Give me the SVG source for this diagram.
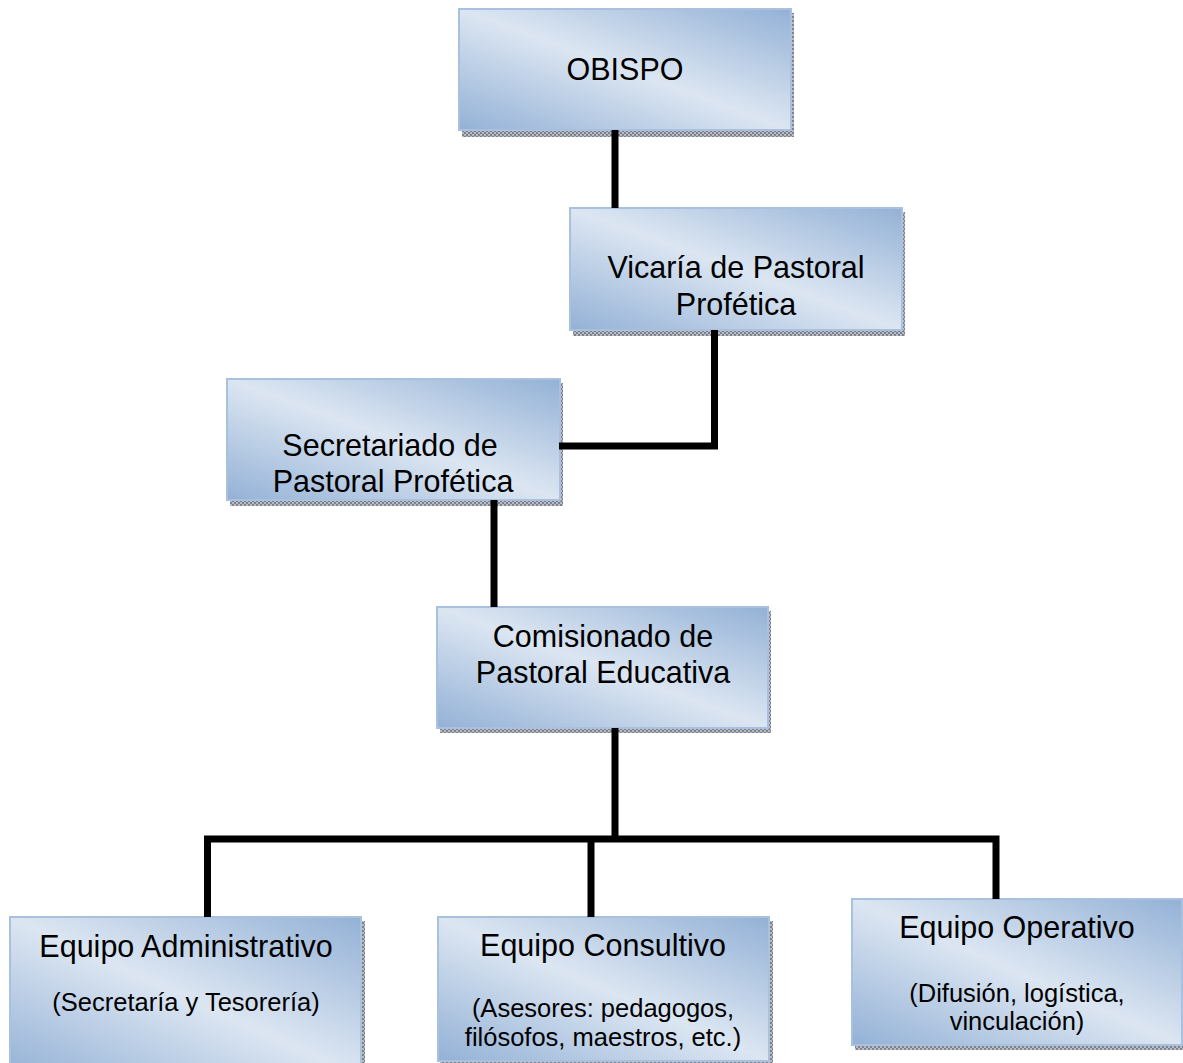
<svg xmlns="http://www.w3.org/2000/svg" width="1183" height="1063" viewBox="0 0 1183 1063">
<defs>
<linearGradient id="g" x1="0" y1="1" x2="1" y2="0">
<stop offset="0" stop-color="#93b1d6"/>
<stop offset="0.5" stop-color="#dce6f2"/>
<stop offset="1" stop-color="#93b1d6"/>
</linearGradient>
<pattern id="sh" width="4" height="4" patternUnits="userSpaceOnUse">
<rect width="4" height="4" fill="#b8bcc4"/>
<rect width="2" height="2" fill="#7c818c"/>
<rect x="2" y="2" width="2" height="2" fill="#7c818c"/>
</pattern>
<style>
.box{fill:url(#g);stroke:#a9c1df;stroke-width:2}
.shadow{fill:url(#sh)}
.t{font-family:"Liberation Sans",Arial,sans-serif;font-size:30.5px;fill:#000;text-anchor:middle}
.s{font-family:"Liberation Sans",Arial,sans-serif;font-size:25.5px;fill:#000;text-anchor:middle}
.c{stroke:#000;stroke-width:7;fill:none;stroke-linecap:butt;stroke-linejoin:miter}
</style>
</defs>
<rect width="1183" height="1063" fill="#fff"/>
<g id="obispo">
<rect class="shadow" x="462" y="13" width="332" height="124"/>
<rect class="box" x="459" y="9" width="332" height="121"/>
<text class="t" x="625" y="80">OBISPO</text>
</g>
<g id="vicaria">
<rect class="shadow" x="573" y="212" width="332" height="124"/>
<rect class="box" x="570" y="208" width="332" height="122"/>
<text class="t" x="736" y="278">Vicaría de Pastoral</text>
<text class="t" x="736" y="315">Profética</text>
</g>
<g id="secretariado">
<rect class="shadow" x="230" y="383" width="333" height="123"/>
<rect class="box" x="227" y="379" width="333" height="121"/>
<text class="t" x="390" y="456">Secretariado de</text>
<text class="t" x="393" y="492">Pastoral Profética</text>
</g>
<g id="comisionado">
<rect class="shadow" x="440" y="611" width="331" height="122"/>
<rect class="box" x="437" y="607" width="331" height="121"/>
<text class="t" x="603" y="647">Comisionado de</text>
<text class="t" x="603" y="683">Pastoral Educativa</text>
</g>
<g id="administrativo">
<rect class="shadow" x="13" y="921" width="352" height="160"/>
<rect class="box" x="10" y="917" width="351" height="160"/>
<text class="t" x="186" y="957">Equipo Administrativo</text>
<text class="s" x="186" y="1011">(Secretaría y Tesorería)</text>
</g>
<g id="consultivo">
<rect class="shadow" x="440" y="921" width="333" height="146"/>
<rect class="box" x="438" y="917" width="331" height="144"/>
<text class="t" x="603" y="956">Equipo Consultivo</text>
<text class="s" x="603" y="1017">(Asesores: pedagogos,</text>
<text class="s" x="603" y="1046">filósofos, maestros, etc.)</text>
</g>
<g id="operativo">
<rect class="shadow" x="855" y="903" width="332" height="147"/>
<rect class="box" x="852" y="899" width="330" height="146"/>
<text class="t" x="1017" y="938">Equipo Operativo</text>
<text class="s" x="1017" y="1002">(Difusión, logística,</text>
<text class="s" x="1017" y="1030">vinculación)</text>
</g>
<g id="connectors">
<path class="c" d="M615,130 V208"/>
<path class="c" d="M714.5,330 V446 H559"/>
<path class="c" d="M494,500 V607"/>
<path class="c" d="M615,728 V839"/>
<path class="c" d="M207.5,917 V839 H996 V899"/>
<path class="c" d="M591,839 V917"/>
</g>
</svg>
